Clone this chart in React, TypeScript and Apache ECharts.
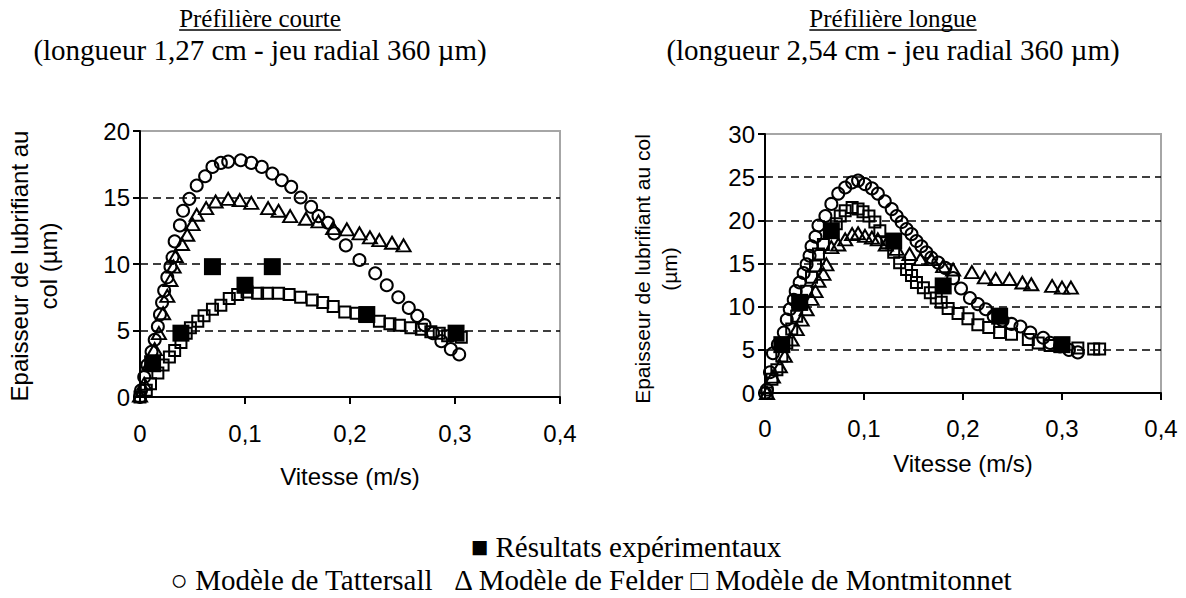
import React, { useEffect, useRef } from 'react';
import * as echarts from 'echarts';

// ---- tick labels ----
const xTickLabels = ['0', '0,1', '0,2', '0,3', '0,4'];

// ---- Préfilière courte ----
const tattCourteX = [0, 0.001, 0.004, 0.007, 0.011, 0.014, 0.017, 0.019, 0.021, 0.023, 0.026, 0.029, 0.031, 0.033, 0.038, 0.041, 0.047, 0.054, 0.062, 0.069, 0.077, 0.084, 0.096, 0.106, 0.116, 0.126, 0.135, 0.144, 0.153, 0.163, 0.170, 0.179, 0.185, 0.196, 0.209, 0.224, 0.235, 0.246, 0.256, 0.264, 0.271, 0.279, 0.287, 0.296, 0.304];
const tattCourteY = [0, 0.5, 1.5, 2.4, 3.4, 4.3, 5.3, 6.2, 7.1, 8.0, 9.0, 9.8, 10.5, 11.7, 12.9, 14.0, 14.9, 15.9, 16.6, 17.3, 17.6, 17.7, 17.8, 17.6, 17.3, 16.8, 16.3, 15.8, 15.0, 14.3, 13.6, 13.1, 12.3, 11.4, 10.3, 9.3, 8.4, 7.5, 6.7, 6.1, 5.4, 4.8, 4.2, 3.6, 3.2];

const feldCourteX = [0, 0.004, 0.009, 0.014, 0.018, 0.022, 0.026, 0.029, 0.032, 0.034, 0.040, 0.045, 0.050, 0.054, 0.063, 0.072, 0.084, 0.095, 0.106, 0.122, 0.132, 0.143, 0.158, 0.170, 0.184, 0.197, 0.209, 0.219, 0.228, 0.240, 0.251];
const feldCourteY = [0.1, 1.0, 2.5, 3.6, 4.8, 6.3, 7.6, 8.8, 9.8, 10.6, 11.5, 12.2, 13.0, 13.7, 14.2, 14.7, 14.9, 14.8, 14.6, 14.2, 14.0, 13.6, 13.4, 13.2, 12.7, 12.6, 12.3, 12.0, 11.8, 11.6, 11.4];

const montCourteX = [0, 0.006, 0.010, 0.017, 0.022, 0.028, 0.033, 0.039, 0.044, 0.048, 0.055, 0.061, 0.069, 0.077, 0.085, 0.093, 0.102, 0.112, 0.121, 0.132, 0.142, 0.153, 0.164, 0.174, 0.184, 0.195, 0.206, 0.214, 0.228, 0.238, 0.247, 0.258, 0.268, 0.277, 0.285, 0.293, 0.306];
const montCourteY = [0, 0.5, 1.0, 1.8, 2.4, 3.0, 3.5, 4.1, 4.8, 5.2, 5.7, 6.1, 6.6, 6.9, 7.4, 7.7, 7.9, 7.8, 7.8, 7.8, 7.7, 7.5, 7.3, 7.1, 6.8, 6.4, 6.3, 6.1, 5.7, 5.5, 5.4, 5.2, 5.1, 4.9, 4.8, 4.6, 4.5];

const expCourteX = [0.012, 0.039, 0.069, 0.100, 0.126, 0.216, 0.301];
const expCourteY = [2.5, 4.8, 9.8, 8.4, 9.8, 6.2, 4.8];

// ---- Préfilière longue ----
const tattLongueX = [0, 0.002, 0.005, 0.008, 0.013, 0.019, 0.022, 0.025, 0.029, 0.031, 0.035, 0.039, 0.042, 0.045, 0.047, 0.051, 0.054, 0.061, 0.067, 0.074, 0.081, 0.088, 0.094, 0.101, 0.108, 0.114, 0.121, 0.128, 0.133, 0.138, 0.143, 0.148, 0.153, 0.158, 0.163, 0.168, 0.175, 0.182, 0.190, 0.198, 0.207, 0.215, 0.223, 0.231, 0.240, 0.249, 0.258, 0.268, 0.281, 0.288, 0.298, 0.307, 0.316];
const tattLongueY = [0, 0.4, 2.4, 4.6, 5.6, 7.0, 8.5, 9.7, 10.8, 11.8, 12.8, 13.9, 14.9, 15.9, 17.0, 18.1, 19.4, 20.5, 21.9, 23.1, 23.8, 24.4, 24.6, 24.2, 23.7, 23.1, 22.2, 21.3, 20.5, 19.8, 19.0, 18.4, 17.6, 17.0, 16.3, 15.7, 15.1, 14.5, 13.3, 12.1, 11.0, 10.3, 9.7, 8.9, 8.4, 8.0, 7.7, 7.0, 6.4, 5.8, 5.4, 5.0, 4.7];

const feldLongueX = [0.002, 0.008, 0.015, 0.020, 0.027, 0.032, 0.037, 0.042, 0.047, 0.051, 0.054, 0.059, 0.062, 0.067, 0.074, 0.081, 0.088, 0.094, 0.101, 0.108, 0.114, 0.122, 0.133, 0.146, 0.157, 0.168, 0.180, 0.190, 0.209, 0.222, 0.233, 0.247, 0.260, 0.269, 0.290, 0.300, 0.309];
const feldLongueY = [0, 1.9, 3.1, 4.3, 6.2, 7.4, 8.5, 9.7, 10.9, 11.8, 13.0, 13.8, 14.9, 16.9, 17.2, 17.8, 18.4, 18.5, 18.2, 18.0, 17.8, 17.2, 16.7, 16.1, 15.5, 15.5, 14.7, 14.3, 14.0, 13.4, 13.2, 13.2, 12.8, 12.6, 12.4, 12.2, 12.2];

const montLongueX = [0.002, 0.007, 0.012, 0.017, 0.022, 0.027, 0.032, 0.037, 0.042, 0.047, 0.051, 0.054, 0.059, 0.066, 0.072, 0.076, 0.081, 0.088, 0.094, 0.099, 0.105, 0.111, 0.116, 0.123, 0.130, 0.136, 0.143, 0.148, 0.153, 0.160, 0.167, 0.173, 0.178, 0.185, 0.195, 0.205, 0.215, 0.226, 0.237, 0.249, 0.266, 0.276, 0.288, 0.298, 0.316, 0.332, 0.338];
const montLongueY = [0, 1.6, 2.7, 4.3, 5.8, 7.4, 8.9, 10.3, 11.8, 13.4, 14.7, 16.1, 17.2, 18.6, 19.6, 20.5, 21.1, 21.5, 21.3, 21.0, 20.5, 19.8, 18.8, 17.4, 16.3, 15.1, 14.3, 13.6, 12.8, 12.2, 11.6, 11.0, 10.5, 9.8, 9.2, 8.6, 7.9, 7.6, 7.0, 6.8, 6.2, 5.8, 5.5, 5.4, 5.2, 5.1, 5.1];

const expLongueX = [0.017, 0.035, 0.067, 0.130, 0.180, 0.237, 0.300];
const expLongueY = [5.6, 10.5, 18.8, 17.6, 12.4, 8.9, 5.6];

// ---- texts ----
const titleCourte = 'Préfilière courte';
const subCourte = '(longueur 1,27 cm - jeu radial 360 µm)';
const titleLongue = 'Préfilière longue';
const subLongue = '(longueur 2,54 cm - jeu radial 360 µm)';
const xName = 'Vitesse (m/s)';
const yNameCourte = ['Epaisseur de lubrifiant au', 'col (µm)'];
const yNameLongue = ['Epaisseur de lubrifiant au col', '(µm)'];
const legendLine1 = '■ Résultats expérimentaux';
const legendLine2 = '○ Modèle de Tattersall   Δ Modèle de Felder □ Modèle de Montmitonnet';

const SERIF = '"Liberation Serif", "Times New Roman", serif';
const SANS = '"Liberation Sans", Arial, sans-serif';
const SERIF_SIZE = 29;
const TITLE1_SIZE = 25;
const SANS_SIZE = 24;
const SANS_SIZE_R = 21;

const zip = (xs: number[], ys: number[]) => xs.map((x, i) => [x, ys[i]]);

function measure(text: string, font: string): number {
  const c = document.createElement('canvas').getContext('2d');
  if (!c) return text.length * 12;
  c.font = font;
  return c.measureText(text).width;
}

const openStyle = { color: 'rgba(0,0,0,0)', borderColor: '#000', borderWidth: 2, opacity: 1 };

function seriesFor(gi: number, tx: number[], ty: number[], fx: number[], fy: number[], mx: number[], my: number[], ex: number[], ey: number[]) {
  return [
    { type: 'scatter', xAxisIndex: gi, yAxisIndex: gi, data: zip(tx, ty), symbol: 'circle', symbolSize: 12, itemStyle: openStyle, silent: true, z: 3 },
    { type: 'scatter', xAxisIndex: gi, yAxisIndex: gi, data: zip(fx, fy), symbol: 'triangle', symbolSize: [14, 12], itemStyle: openStyle, silent: true, z: 3 },
    { type: 'scatter', xAxisIndex: gi, yAxisIndex: gi, data: zip(mx, my), symbol: 'rect', symbolSize: 11, itemStyle: openStyle, silent: true, z: 3 },
    { type: 'scatter', xAxisIndex: gi, yAxisIndex: gi, data: zip(ex, ey), symbol: 'rect', symbolSize: 17, itemStyle: { color: '#000', opacity: 1 }, silent: true, z: 4 },
  ];
}

function xAxisFor(gi: number, nameGap: number, margin: number) {
  return {
    gridIndex: gi, type: 'value', min: 0, max: 0.4, interval: 0.1,
    axisLine: { show: true, onZero: false, lineStyle: { color: '#000', width: 2 } },
    axisTick: { show: true, inside: false, length: 7, lineStyle: { color: '#000', width: 2 } },
    axisLabel: { fontSize: SANS_SIZE, fontFamily: SANS, color: '#000', margin, formatter: (v: number) => xTickLabels[Math.round(v / 0.1)] },
    splitLine: { show: false },
    name: xName, nameLocation: 'middle', nameGap,
    nameTextStyle: { fontSize: SANS_SIZE, fontFamily: SANS, color: '#000' },
  };
}

function yAxisFor(gi: number, max: number) {
  return {
    gridIndex: gi, type: 'value', min: 0, max, interval: 5,
    axisLine: { show: true, onZero: false, lineStyle: { color: '#000', width: 2 } },
    axisTick: { show: true, inside: false, length: 7, lineStyle: { color: '#000', width: 2 } },
    axisLabel: { fontSize: SANS_SIZE, fontFamily: SANS, color: '#000', margin: 10 },
    splitLine: { show: true, showMinLine: false, showMaxLine: false, lineStyle: { type: [8, 5], color: '#000', width: 1.5 } },
  };
}

export default function App() {
  const ref = useRef<HTMLDivElement>(null);
  useEffect(() => {
    if (!ref.current) return;
    const chart = echarts.init(ref.current, undefined, { renderer: 'svg' });
    const t1Font = `${TITLE1_SIZE}px "Liberation Serif"`;
    const wTC = measure(titleCourte, t1Font);
    const wTL = measure(titleLongue, t1Font);
    const cxC = 260;
    const cxL = 893;
    const serifText = (text: string, x: number, y: number, size: number) => ({
      type: 'text', x, y, silent: true,
      style: { text, fontSize: size, fontFamily: SERIF, fill: '#000', align: 'center', verticalAlign: 'middle' },
    });
    const vText = (text: string, x: number, y: number, size: number) => ({
      type: 'text', x, y, rotation: Math.PI / 2, silent: true,
      style: { text, fontSize: size, fontFamily: SANS, fill: '#000', align: 'center', verticalAlign: 'middle' },
    });
    chart.setOption({
      animation: false,
      backgroundColor: '#fff',
      grid: [
        { left: 140, top: 131, width: 420, height: 266, show: true, borderColor: '#a6a6a6', borderWidth: 2, backgroundColor: 'transparent' },
        { left: 765, top: 134, width: 396, height: 259, show: true, borderColor: '#a6a6a6', borderWidth: 2, backgroundColor: 'transparent' },
      ],
      xAxis: [xAxisFor(0, 67, 24), xAxisFor(1, 58, 23)],
      yAxis: [yAxisFor(0, 20), yAxisFor(1, 30)],
      series: [
        ...seriesFor(0, tattCourteX, tattCourteY, feldCourteX, feldCourteY, montCourteX, montCourteY, expCourteX, expCourteY),
        ...seriesFor(1, tattLongueX, tattLongueY, feldLongueX, feldLongueY, montLongueX, montLongueY, expLongueX, expLongueY),
      ],
      graphic: [
        serifText(titleCourte, cxC, 18, TITLE1_SIZE),
        { type: 'line', silent: true, shape: { x1: cxC - wTC / 2, y1: 30, x2: cxC + wTC / 2, y2: 30 }, style: { stroke: '#000', lineWidth: 1.5 } },
        serifText(subCourte, cxC, 50, SERIF_SIZE),
        serifText(titleLongue, cxL, 18, TITLE1_SIZE),
        { type: 'line', silent: true, shape: { x1: cxL - wTL / 2, y1: 30, x2: cxL + wTL / 2, y2: 30 }, style: { stroke: '#000', lineWidth: 1.5 } },
        serifText(subLongue, cxL, 50, SERIF_SIZE),
        vText(yNameCourte[0], 19, 266, SANS_SIZE),
        vText(yNameCourte[1], 48, 266, SANS_SIZE),
        vText(yNameLongue[0], 642, 269, SANS_SIZE_R),
        vText(yNameLongue[1], 669, 269, SANS_SIZE_R),
        serifText(legendLine1, 626, 547, SERIF_SIZE),
        serifText(legendLine2, 591, 580, SERIF_SIZE),
      ],
    });
    return () => chart.dispose();
  }, []);
  return <div ref={ref} style={{ position: 'fixed', left: 0, top: 0, width: 1186, height: 598, background: '#fff' }} />;
}
